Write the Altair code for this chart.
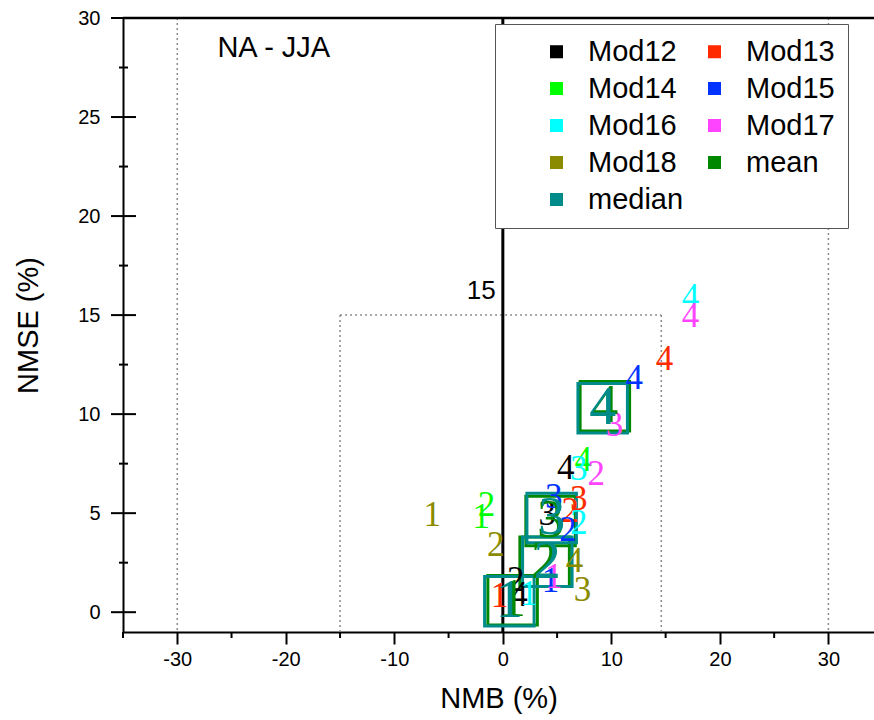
import altair as alt
import pandas as pd

# ---- data ----
series_names = ["Mod12", "Mod13", "Mod14", "Mod15", "Mod16", "Mod17", "Mod18", "mean", "median"]
series_colors = ["#000000", "#FF2A00", "#00FF00", "#0033FF", "#00FFFF", "#FF44FF", "#8B8B00", "#008800", "#008B8B"]

# model points (digit label = season index)
pt_series = (["Mod12"] * 4 + ["Mod13"] * 4 + ["Mod14"] * 3 + ["Mod15"] * 4 +
             ["Mod16"] * 4 + ["Mod17"] * 4 + ["Mod18"] * 4)
pt_label = (["2", "4", "3", "4"] +
            ["1", "2", "3", "4"] +
            ["1", "2", "4"] +
            ["1", "2", "3", "4"] +
            ["1", "2", "3", "4"] +
            ["1", "2", "3", "4"] +
            ["1", "2", "3", "4"])
pt_nmb = ([1.2, 1.5, 4.1, 5.8] +
          [-0.3, 6.2, 7.0, 14.9] +
          [-2.0, -1.5, 7.4] +
          [4.4, 6.0, 4.7, 12.1] +
          [2.4, 7.0, 7.0, 17.3] +
          [4.7, 8.6, 10.3, 17.3] +
          [-6.5, -0.65, 7.35, 6.6])
pt_nmse = ([1.65, 0.85, 4.95, 7.3] +
           [0.8, 5.1, 5.7, 12.8] +
           [4.8, 5.4, 7.7] +
           [1.6, 4.15, 5.8, 11.8] +
           [0.94, 4.5, 7.25, 15.9] +
           [1.8, 7.0, 9.45, 14.95] +
           [4.9, 3.4, 1.1, 2.6])

# ensemble statistics (mean / median) per season
st_series = ["mean"] * 4 + ["median"] * 4
st_label = ["1", "2", "3", "4"] * 2
st_nmb = [0.9, 3.85, 4.4, 9.4, 0.6, 4.1, 4.5, 9.2]
st_nmse = [0.6, 2.55, 4.6, 10.4, 0.55, 2.55, 4.75, 10.3]
stat_names = ["mean", "median"]
stat_colors = ["#008800", "#008B8B"]

# reference frames
outer_x = [-30, 30]
inner_x = [-15, 14.6]
inner_top = 15
frame_bottom = -1
x_major = [-30, -20, -10, 0, 10, 20, 30]
x_minor = [-35, -25, -15, -5, 5, 15, 25]
y_major = [0, 5, 10, 15, 20, 25, 30]
y_minor = [2.5, 7.5, 12.5, 17.5, 22.5, 27.5]

X_DOMAIN = [-35, 34.2]
Y_DOMAIN = [-1, 30]

pts = pd.DataFrame({"series": pt_series, "label": pt_label, "nmb": pt_nmb, "nmse": pt_nmse})
sts = pd.DataFrame({"series": st_series, "label": st_label, "nmb": st_nmb, "nmse": st_nmse})

xs = alt.Scale(domain=X_DOMAIN, nice=False, zero=False)
ys = alt.Scale(domain=Y_DOMAIN, nice=False, zero=False)
cscale = alt.Scale(domain=series_names, range=series_colors)

X = lambda f: alt.X(f, type="quantitative", scale=xs, axis=alt.Axis(
    values=x_major, title="NMB (%)", tickSize=12, tickWidth=2, tickColor="black",
    domainColor="black", domainWidth=2, labelFontSize=20, labelFont="Liberation Sans",
    labelColor="black", labelPadding=5, grid=False, titleFontSize=29,
    titleFont="Liberation Sans", titleFontWeight="normal", titleColor="black",
    titlePadding=15, labelExpr="toString(datum.value)"))
Y = lambda f: alt.Y(f, type="quantitative", scale=ys, axis=alt.Axis(
    values=y_major, title="NMSE (%)", ticks=False, domainColor="black", domainWidth=2,
    labelFontSize=20, labelFont="Liberation Sans", labelColor="black", labelPadding=23,
    grid=False, titleFontSize=29, titleFont="Liberation Sans", titleFontWeight="normal",
    titleColor="black", titlePadding=34))

dot = dict(color="#8a8a8a", strokeDash=[2, 3], strokeWidth=1.5)

outer = alt.Chart(pd.DataFrame({"x": outer_x})).mark_rule(**dot).encode(x=X("x"))
inner_v = alt.Chart(pd.DataFrame({"x": inner_x, "top": [inner_top] * 2, "bot": [frame_bottom] * 2})
                    ).mark_rule(**dot).encode(x=X("x"), y=Y("top"), y2="bot")
inner_h = alt.Chart(pd.DataFrame({"x": [inner_x[0]], "x2": [inner_x[1]], "y": [inner_top]})
                    ).mark_rule(**dot).encode(x=X("x"), x2="x2", y=Y("y"))
zero_line = alt.Chart(pd.DataFrame({"x": [0]})).mark_rule(color="black", strokeWidth=3).encode(x=X("x"))
top_line = alt.Chart(pd.DataFrame({"y": [Y_DOMAIN[1]]})).mark_rule(color="black", strokeWidth=2.5).encode(y=Y("y"))

ymaj = alt.Chart(pd.DataFrame({"y": y_major})).mark_rule(color="black", strokeWidth=2).encode(
    y=Y("y"), x=alt.value(-12), x2=alt.value(13))
ymin = alt.Chart(pd.DataFrame({"y": y_minor})).mark_rule(color="black", strokeWidth=2).encode(
    y=Y("y"), x=alt.value(-4), x2=alt.value(5))
xmin = alt.Chart(pd.DataFrame({"x": x_minor})).mark_rule(color="black", strokeWidth=2).encode(
    x=X("x"), y=alt.value(614), y2=alt.value(620))

squares = alt.Chart(sts).mark_point(shape="square", filled=False, size=2450, strokeWidth=3, opacity=1).encode(
    x=X("nmb"), y=Y("nmse"),
    stroke=alt.Stroke("series:N", scale=alt.Scale(domain=stat_names, range=stat_colors), legend=None))

legend = alt.Legend(title="\u00a0", titleOrient="left", titleFontSize=29, titlePadding=34,
                    orient="none", legendX=372, legendY=6, columns=2, direction="horizontal",
                    symbolType="square", symbolSize=170, symbolStrokeWidth=0,
                    labelFontSize=29, labelFont="Liberation Sans", labelColor="black",
                    labelOffset=17, columnPadding=16, rowPadding=7, padding=13,
                    fillColor="white", strokeColor="#555555")

digits = alt.Chart(pts).mark_text(font="Liberation Serif", fontSize=35, baseline="middle", align="center").encode(
    x=X("nmb"), y=Y("nmse"), text="label:N",
    color=alt.Color("series:N", scale=cscale, legend=legend))
stat_digits = alt.Chart(sts).mark_text(font="Liberation Serif", fontSize=54, baseline="middle", align="center").encode(
    x=X("nmb"), y=Y("nmse"), text="label:N",
    color=alt.Color("series:N", scale=cscale, legend=legend))

note15 = alt.Chart(pd.DataFrame({"x": [-2.0], "y": [16.2], "t": ["15"]})).mark_text(
    font="Liberation Sans", fontSize=26, color="black", align="center", baseline="middle").encode(
    x=X("x"), y=Y("y"), text="t:N")
note_title = alt.Chart(pd.DataFrame({"x": [-26.3], "y": [28.5], "t": ["NA - JJA"]})).mark_text(
    font="Liberation Sans", fontSize=29, color="black", align="left", baseline="middle").encode(
    x=X("x"), y=Y("y"), text="t:N")

chart = alt.layer(outer, inner_v, inner_h, zero_line, top_line, ymaj, ymin, xmin,
                  squares, digits, stat_digits, note15, note_title).properties(
    width=751, height=614, autosize="none",
    padding={"left": 123, "top": 18, "right": 0, "bottom": 88},
    background="white"
).configure_view(stroke=None)

chart.save("out.html", embed_options={"renderer": "svg", "actions": False})
